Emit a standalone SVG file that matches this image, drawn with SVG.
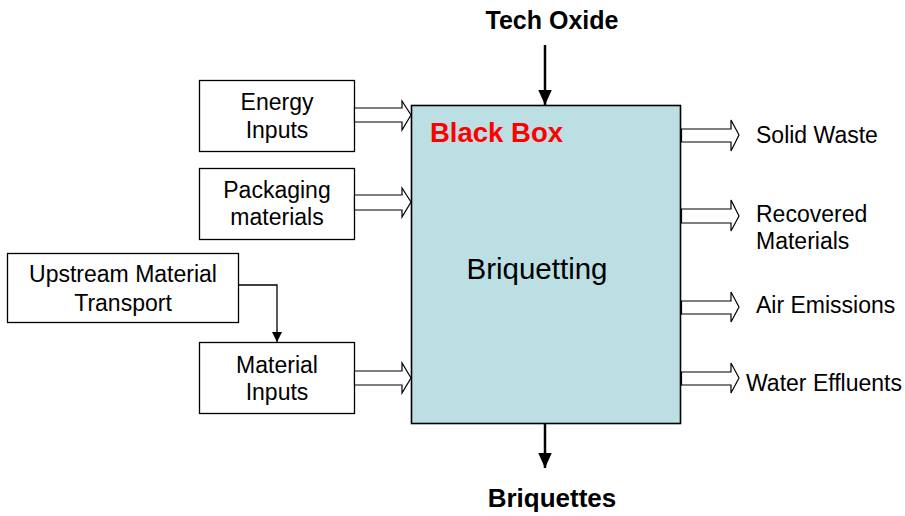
<svg xmlns="http://www.w3.org/2000/svg" width="905" height="516" viewBox="0 0 905 516">
<defs>
<style>
.box{fill:#fff;stroke:#000;stroke-width:1.3}
.main{fill:#BBDFE3;stroke:#000;stroke-width:1.6}
.hollow{fill:#fff;stroke:#000;stroke-width:1.2;stroke-linejoin:miter}
.t{font-family:"Liberation Sans",Arial,sans-serif;font-size:23px;fill:#000}
.c{text-anchor:middle}
.b{font-weight:bold;font-size:25px}
.line{fill:none;stroke:#000}
</style>
<marker id="ah" viewBox="0 0 10 10" refX="10" refY="5" markerWidth="10" markerHeight="10" markerUnits="userSpaceOnUse" orient="auto">
<path d="M0,0 L10,5 L0,10 Z" fill="#000"/>
</marker>
<marker id="ahBig" viewBox="0 0 10 10" refX="10" refY="5" markerWidth="15" markerHeight="15" markerUnits="userSpaceOnUse" orient="auto">
<path d="M0,0.5 L10,5 L0,9.5 Z" fill="#000"/>
</marker>
</defs>

<g id="main-box">
<rect class="main" x="411.5" y="105.5" width="269" height="318"/>
<text class="t b" x="430" y="142" style="font-size:27.5px;fill:#FF0000">Black Box</text>
<text class="t c" x="537" y="279" style="font-size:29.5px">Briquetting</text>
</g>

<g id="energy-inputs">
<rect class="box" x="199.5" y="80.5" width="155" height="71"/>
<text class="t c" x="277" y="110">Energy</text>
<text class="t c" x="277" y="138">Inputs</text>
</g>

<g id="packaging-materials">
<rect class="box" x="199.5" y="168.5" width="155" height="71"/>
<text class="t c" x="277" y="198">Packaging</text>
<text class="t c" x="277" y="225">materials</text>
</g>

<g id="upstream-transport">
<rect class="box" x="7.5" y="253.5" width="231" height="69"/>
<text class="t c" x="123" y="282">Upstream Material</text>
<text class="t c" x="123" y="311">Transport</text>
</g>

<g id="material-inputs">
<rect class="box" x="199.5" y="342.5" width="155" height="71"/>
<text class="t c" x="277" y="373">Material</text>
<text class="t c" x="277" y="400">Inputs</text>
</g>

<g id="tech-oxide">
<text class="t c b" x="552" y="29">Tech Oxide</text>
</g>

<g id="briquettes">
<text class="t c b" x="552" y="507" style="font-size:26px">Briquettes</text>
</g>

<g id="outputs">
<text class="t" x="756" y="143">Solid Waste</text>
<text class="t" x="756" y="222">Recovered</text>
<text class="t" x="756" y="249">Materials</text>
<text class="t" x="756" y="313">Air Emissions</text>
<text class="t" x="746" y="391">Water Effluents</text>
</g>

<g id="connectors">
<line class="line" x1="545" y1="45" x2="545" y2="105" stroke-width="2.5" marker-end="url(#ahBig)"/>
<line class="line" x1="545" y1="424" x2="545" y2="468" stroke-width="2.5" marker-end="url(#ahBig)"/>
<polyline class="line" points="238,285 277,285 277,342" stroke-width="1.3" marker-end="url(#ah)"/>
<polygon class="hollow" points="354.5,108 402,108 402,101 411,115 402,130 402,122 354.5,122"/>
<polygon class="hollow" points="354.5,195 402,195 402,188 411,202 402,217 402,210 354.5,210"/>
<polygon class="hollow" points="354.5,371 402,371 402,363 411,378 402,393 402,385 354.5,385"/>
<polygon class="hollow" points="681.5,129 731,129 731,120 739,135 731,151 731,142 681.5,142"/>
<polygon class="hollow" points="681.5,209 731,209 731,200 739,216 731,231 731,223 681.5,223"/>
<polygon class="hollow" points="681.5,301 731,301 731,292 739,307 731,322 731,314 681.5,314"/>
<polygon class="hollow" points="681.5,372 731,372 731,363 739,378 731,393 731,385 681.5,385"/>
</g>
</svg>
